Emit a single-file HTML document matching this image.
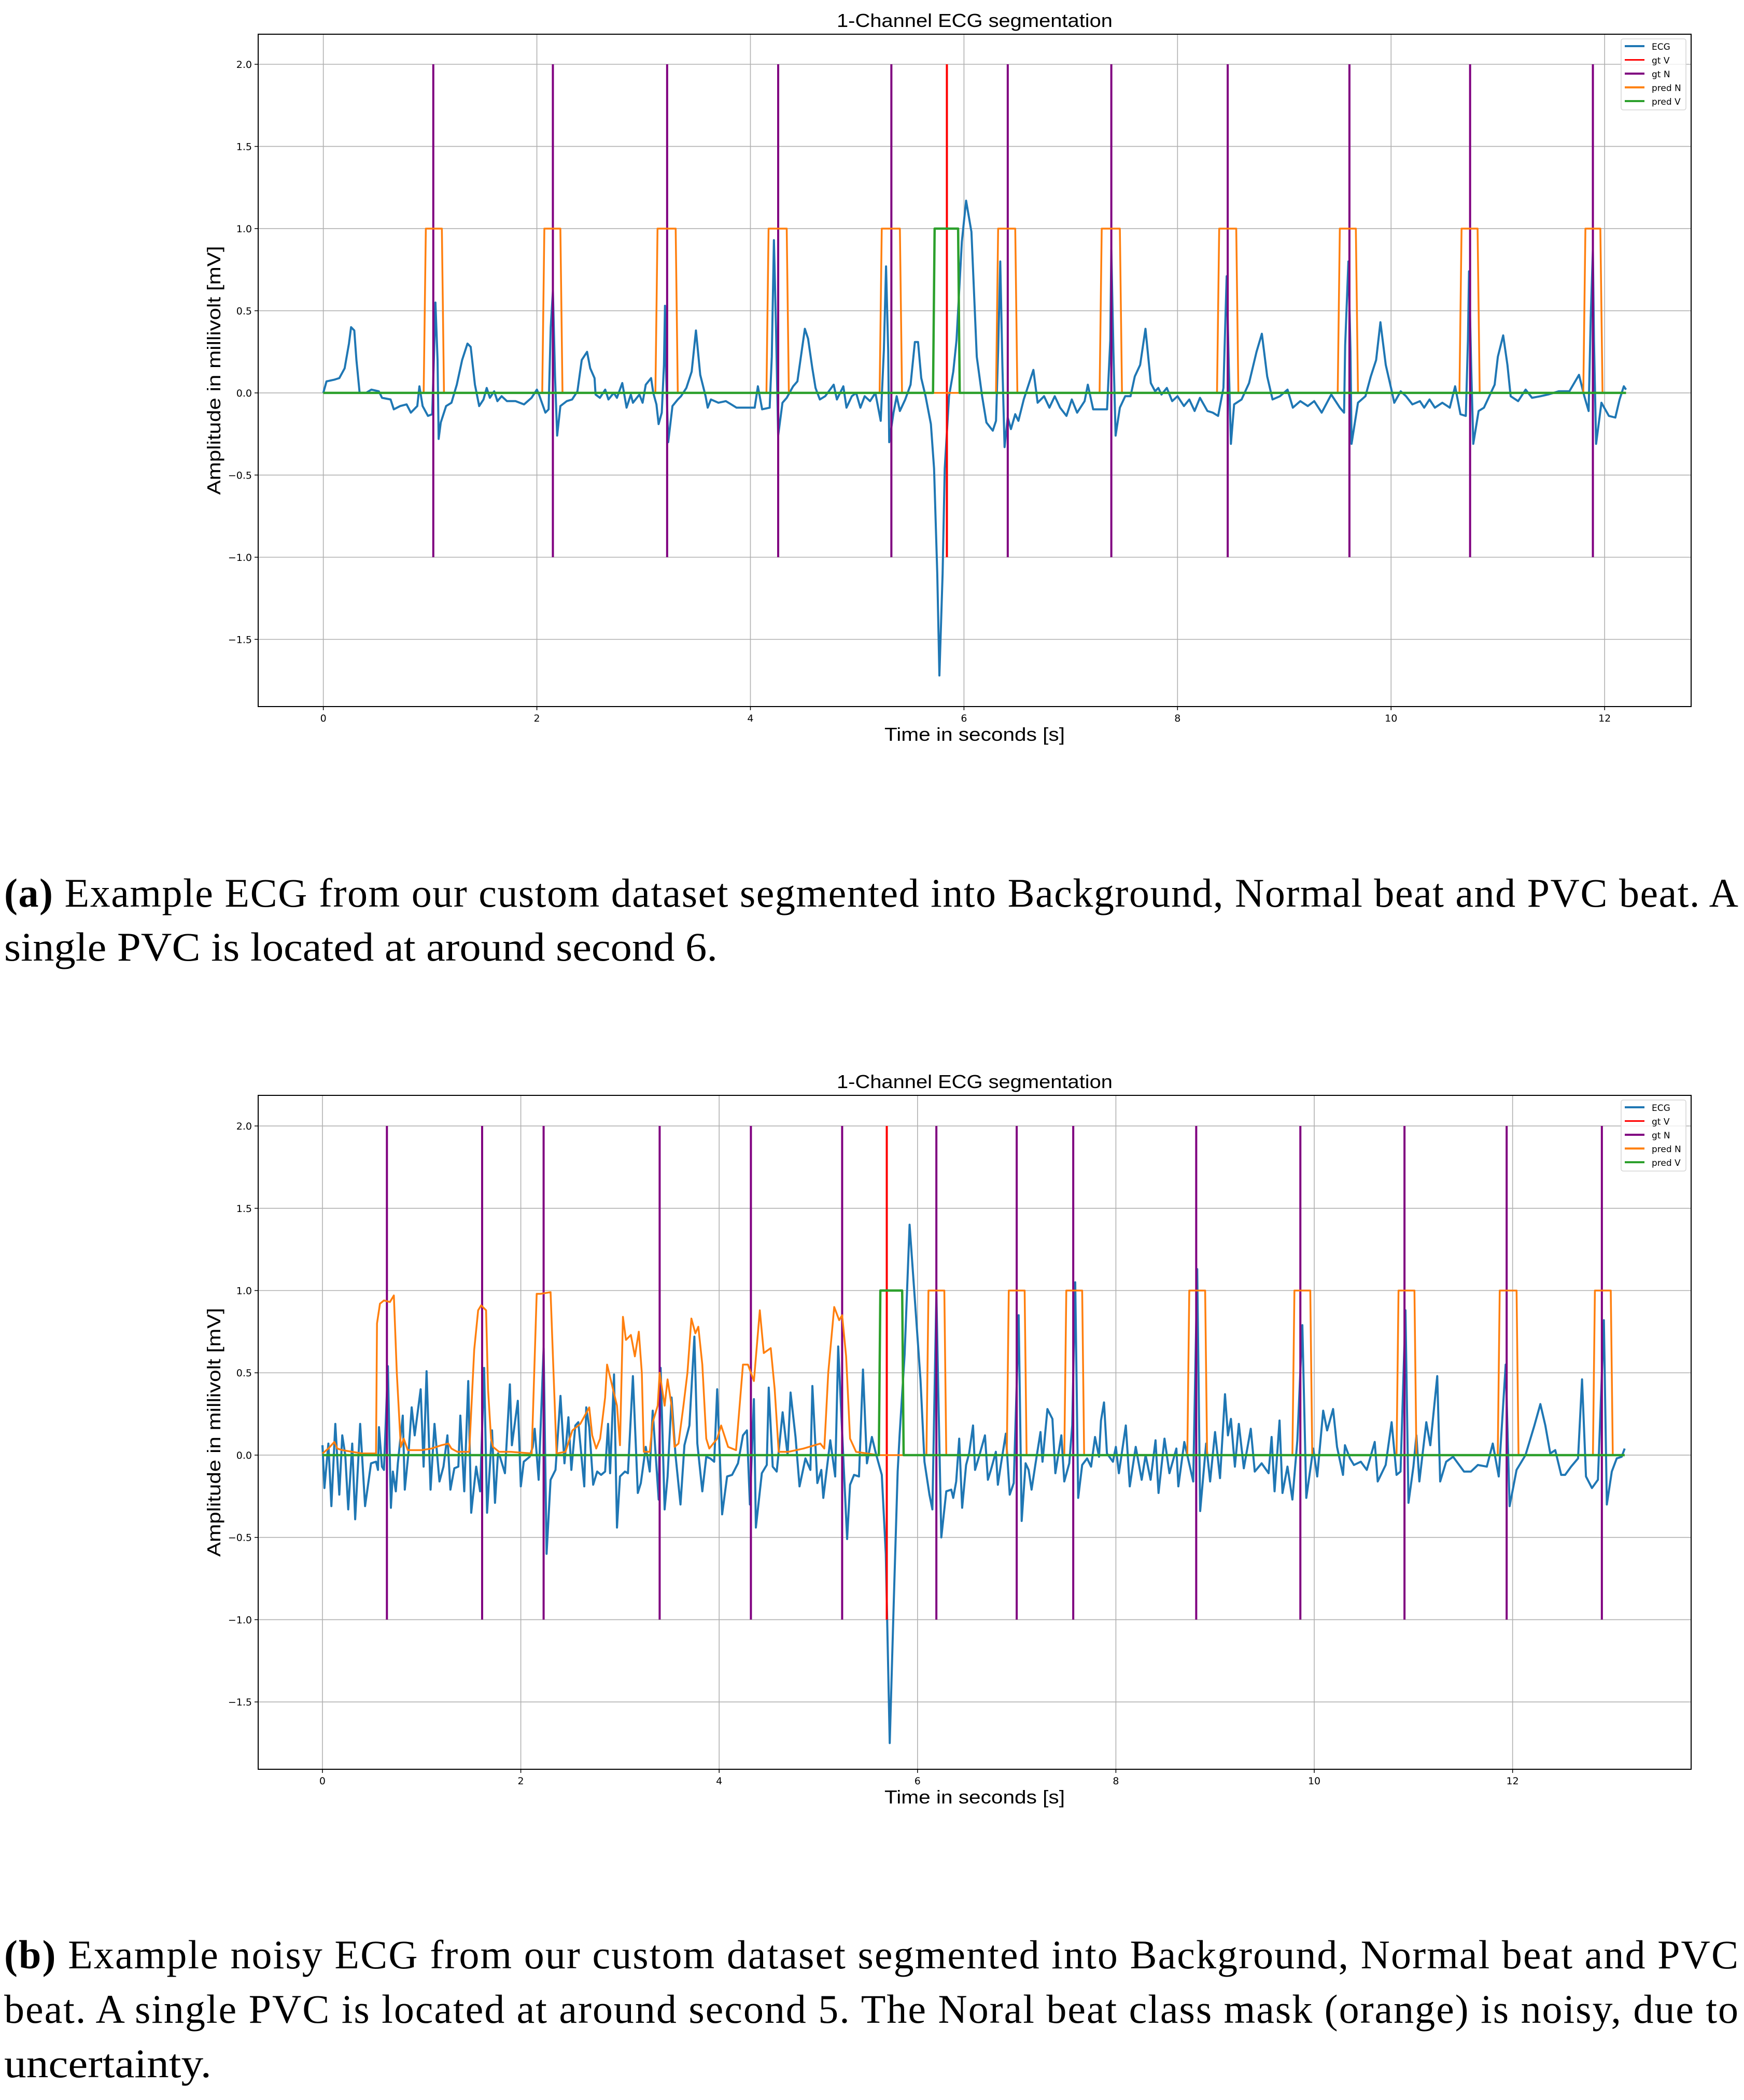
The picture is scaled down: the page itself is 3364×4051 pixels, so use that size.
<!DOCTYPE html>
<html>
<head>
<meta charset="utf-8">
<style>
  html,body{margin:0;padding:0;background:#fff;}
  svg{display:block;}
  .tick{font-family:"DejaVu Sans","Liberation Sans",sans-serif;font-size:19px;fill:#000;}
  .axlabel{font-family:"Liberation Sans",sans-serif;font-size:36px;fill:#000;}
  .title{font-family:"Liberation Sans",sans-serif;font-size:36px;fill:#000;}
  .leg{font-family:"DejaVu Sans","Liberation Sans",sans-serif;font-size:17px;fill:#000;}
  .cap{font-family:"Liberation Serif",serif;font-size:78px;fill:#000;}
</style>
</head>
<body>
<svg id="root" xmlns="http://www.w3.org/2000/svg" width="3364" height="4051" viewBox="0 0 3364 4051">
  <rect x="0" y="0" width="3364" height="4051" fill="#fff"/>
  <text class="cap" x="8" y="1749" textLength="3345" lengthAdjust="spacing"><tspan font-weight="bold">(a)</tspan> Example ECG from our custom dataset segmented into Background, Normal beat and PVC beat. A</text>
  <text class="cap" x="8" y="1853" textLength="1376" lengthAdjust="spacingAndGlyphs">single PVC is located at around second 6.</text>
  <text class="cap" x="8" y="3797" textLength="3345" lengthAdjust="spacing"><tspan font-weight="bold">(b)</tspan> Example noisy ECG from our custom dataset segmented into Background, Normal beat and PVC</text>
  <text class="cap" x="8" y="3902" textLength="3345" lengthAdjust="spacing">beat. A single PVC is located at around second 5. The Noral beat class mask (orange) is noisy, due to</text>
  <text class="cap" x="8" y="4007" textLength="400" lengthAdjust="spacingAndGlyphs">uncertainty.</text>
</svg>
<script>
// ---------- Chart A data ----------
const ecgA_t = [0,0.03,0.1,0.15,0.2,0.24,0.26,0.29,0.31,0.34,0.4,0.45,0.52,0.55,0.63,0.66,0.72,0.78,0.82,0.88,0.9,0.93,0.98,1.02,1.04,1.05,1.07,1.08,1.10,1.15,1.2,1.25,1.3,1.35,1.38,1.42,1.46,1.5,1.53,1.56,1.6,1.63,1.67,1.72,1.8,1.88,1.95,2.0,2.02,2.08,2.11,2.13,2.15,2.17,2.19,2.22,2.28,2.33,2.38,2.42,2.47,2.50,2.54,
2.55,2.59,2.64,2.67,2.72,2.75,2.8,2.84,2.88,2.9,2.96,2.99,3.02,3.07,3.09,3.12,3.14,3.17,3.19,3.2,3.21,3.23,3.27,3.32,3.35,3.4,3.45,3.49,3.53,3.58,3.6,3.63,3.7,3.77,3.82,3.87,3.94,4.04,4.07,4.11,4.18,4.2,4.22,4.24,4.26,4.3,4.34,4.4,4.44,4.51,4.54,4.58,4.61,4.65,4.7,4.78,4.81,4.87,4.9,4.95,4.99,5.03,5.07,5.12,5.17,5.22,5.25,5.27,5.29,5.3,5.34,5.37,5.4,5.45,5.5,5.54,5.57,5.6,5.64,5.69,5.72,5.75,5.77,5.8,5.82,5.86,5.9,5.93,5.98,6.02,6.07,6.12,6.17,6.21,6.27,6.3,6.32,6.34,6.36,6.38,6.41,6.44,6.48,6.51,6.56,6.6,6.65,6.69,6.75,6.8,6.85,6.9,6.96,7.01,7.06,7.13,7.16,7.21,7.26,
7.29,7.34,7.37,7.38,7.4,7.42,7.46,7.51,7.56,7.6,7.65,7.7,7.75,7.79,7.82,7.85,7.9,7.95,8.0,8.06,8.11,8.16,8.21,8.28,8.33,8.38,8.43,8.46,8.48,8.5,8.53,8.6,8.67,8.74,8.79,8.84,8.89,8.96,9.03,9.08,9.15,9.22,9.28,9.35,9.44,9.52,9.56,9.57,9.6,9.62,9.63,9.69,9.76,9.81,9.86,9.9,9.95,10.0,10.03,10.09,10.14,10.2,10.27,10.31,10.36,10.41,10.48,10.55,10.6,10.65,10.7,10.72,10.73,10.75,10.77,10.82,10.87,10.92,10.97,11.0,11.05,11.09,11.12,11.19,11.26,11.32,11.4,11.47,11.57,11.67,11.76,11.81,11.85,11.87,11.89,11.9,11.92,11.97,12.04,12.1,12.14,12.18,12.2];
const ecgA_v = [0,0.07,0.08,0.09,0.15,0.30,0.40,0.38,0.20,0.00,0.00,0.02,0.01,-0.03,-0.04,-0.10,-0.08,-0.07,-0.12,-0.08,0.04,-0.08,-0.14,-0.13,0.30,0.55,0.20,-0.28,-0.18,-0.08,-0.06,0.05,0.20,0.30,0.28,0.05,-0.08,-0.04,0.03,-0.03,0.01,-0.05,-0.02,-0.05,-0.05,-0.07,-0.03,0.02,-0.01,-0.12,-0.10,0.40,0.62,0.10,-0.26,-0.08,-0.05,-0.04,0.01,0.20,0.25,0.15,0.09,
-0.01,-0.03,0.02,-0.04,0,-0.03,0.06,-0.09,-0.01,-0.06,-0.01,-0.06,0.05,0.09,0,-0.07,-0.19,-0.12,0.17,0.53,0.13,-0.30,-0.08,-0.04,-0.02,0.03,0.13,0.38,0.11,-0.02,-0.09,-0.04,-0.06,-0.05,-0.07,-0.09,-0.09,-0.09,0.04,-0.10,-0.09,0.22,0.93,0.39,-0.26,-0.06,-0.03,0.04,0.07,0.39,0.33,0.15,0.03,-0.04,-0.02,0.05,-0.04,0.04,-0.09,-0.02,0,-0.09,-0.02,-0.05,0,-0.17,0.26,0.77,0.26,-0.30,-0.12,-0.02,-0.11,-0.04,0.05,0.31,0.31,0.09,-0.02,-0.19,-0.46,-1.10,-1.72,-1.10,-0.46,-0.02,0.13,0.32,0.92,1.17,0.98,0.22,-0.02,-0.18,-0.23,-0.17,0.26,0.80,0.17,-0.33,-0.15,-0.22,-0.13,-0.17,-0.04,0.04,0.14,-0.06,-0.02,-0.09,-0.02,-0.09,-0.14,-0.04,-0.12,-0.05,0.05,-0.10,-0.10,
-0.10,-0.10,0.32,0.87,0.25,-0.26,-0.09,-0.02,-0.02,0.10,0.17,0.39,0.06,0.01,0.03,-0.01,0.03,-0.05,-0.02,-0.08,-0.04,-0.11,-0.03,-0.11,-0.12,-0.14,0.03,0.71,0.17,-0.31,-0.07,-0.04,0.06,0.25,0.36,0.10,-0.04,-0.02,0.02,-0.09,-0.05,-0.08,-0.05,-0.12,-0.01,-0.09,-0.12,0.29,0.80,0.25,-0.31,-0.06,-0.02,0.10,0.20,0.43,0.17,0.03,-0.06,0.01,-0.02,-0.07,-0.05,-0.09,-0.04,-0.09,-0.06,-0.09,0.04,-0.13,-0.14,0.32,0.74,0.17,-0.31,-0.11,-0.09,-0.02,0.05,0.22,0.35,0.17,-0.02,-0.05,0.02,-0.03,-0.02,-0.01,0.01,0.01,0.11,-0.02,-0.11,0.46,0.87,0.32,-0.31,-0.06,-0.14,-0.15,-0.04,0.04,0.02];
const gtNA = [1.03,2.15,3.22,4.26,5.32,6.41,7.38,8.47,9.61,10.74,11.89];
const gtVA = [5.84];
const predNA_start = [0.94,2.05,3.11,4.15,5.21,6.30,7.27,8.37,9.50,10.64,11.80];
const predNA_end   = [1.13,2.24,3.32,4.36,5.42,6.50,7.48,8.57,9.69,10.83,11.98];
const predVA_start = [5.71];
const predVA_end   = [5.96];
const tEndA = 12.2;

// ---------- Chart B data ----------
const ecgB_t = [0.00,0.02,0.06,0.09,0.13,0.17,0.20,0.23,0.26,0.30,0.33,0.38,0.43,0.49,0.54,0.56,0.57,0.60,0.62,0.66,0.69,0.71,0.74,0.76,0.81,0.83,0.87,0.90,0.93,0.99,1.02,1.05,1.09,1.13,1.18,1.22,1.26,1.29,1.33,1.37,1.39,1.43,1.47,1.50,1.55,1.59,1.63,1.66,1.71,1.74,1.77,1.79,1.84,1.89,1.91,1.97,2.00,2.03,2.09,2.12,2.14,2.18,2.23,2.26,2.30,2.35,2.40,2.44,2.48,2.51,2.55,2.58,2.64,2.66,2.69,2.73,2.77,2.81,2.85,2.88,2.90,2.94,2.97,3.00,3.05,3.08,3.13,3.18,3.21,3.26,3.30,3.33,3.39,3.41,3.45,3.48,3.52,3.56,3.61,3.65,3.70,3.75,3.78,3.83,3.87,3.91,3.95,3.98,4.03,4.08,4.13,4.19,4.24,4.28,4.31,4.35,4.37,4.43,4.48,4.50,4.54,4.58,4.64,4.69,4.72,4.77,4.81,4.87,4.92,4.94,4.99,5.03,5.05,5.12,5.17,5.20,5.26,5.29,5.32,5.36,5.41,5.45,5.49,5.54,5.58,5.64,5.68,5.72,5.76,5.80,5.82,5.87,5.92,5.97,6.03,6.07,6.12,6.15,6.19,6.21,6.24,6.29,6.34,6.36,6.39,6.42,6.45,6.49,6.52,6.56,6.58,6.62,6.68,6.71,6.74,6.79,6.81,6.84,6.89,6.93,6.97,7.00,7.02,7.05,7.09,7.12,7.15,7.19,7.24,7.26,7.31,7.36,7.39,7.45,7.48,7.53,7.56,7.59,7.62,7.66,7.71,7.75,7.79,7.83,7.85,7.88,7.91,7.97,8.00,8.03,8.10,8.14,8.20,8.26,8.30,8.35,8.40,8.43,8.49,8.54,8.61,8.63,8.69,8.78,8.82,8.85,8.91,8.95,9.00,9.05,9.10,9.13,9.16,9.20,9.24,9.29,9.36,9.40,9.47,9.54,9.57,9.60,9.65,9.68,9.73,9.78,9.83,9.88,9.92,9.99,10.03,10.09,10.13,10.19,10.23,10.29,10.31,10.36,10.40,10.47,10.53,10.61,10.64,10.72,10.78,10.83,10.87,10.92,10.95,11.00,11.03,11.06,11.13,11.17,11.24,11.27,11.33,11.40,11.51,11.58,11.65,11.74,11.80,11.86,11.93,11.97,12.04,12.13,12.22,12.28,12.33,12.38,12.43,12.49,12.53,12.59,12.66,12.70,12.74,12.80,12.86,12.92,12.95,13.00,13.05,13.10,13.13];
const ecgB_v = [0.06,-0.20,0.07,-0.31,0.19,-0.24,0.12,0.00,-0.33,0.07,-0.39,0.19,-0.31,-0.05,-0.04,-0.09,0.17,-0.07,-0.09,0.54,-0.32,-0.10,-0.22,-0.05,0.24,-0.21,0.03,0.29,0.12,0.40,-0.07,0.51,-0.21,0.19,-0.16,-0.07,0.12,-0.21,-0.08,-0.07,0.24,-0.22,0.45,-0.35,-0.07,-0.22,0.53,-0.35,0.15,-0.29,0.01,-0.01,-0.11,0.43,0.06,0.33,-0.19,-0.04,-0.01,0.05,0.16,-0.15,0.65,-0.60,-0.15,-0.09,0.36,-0.05,0.23,-0.09,0.18,0.20,-0.19,0.29,0.17,-0.18,-0.10,-0.12,-0.10,0.19,-0.11,0.49,-0.44,-0.13,-0.10,-0.11,0.48,-0.23,-0.17,0.05,-0.10,0.27,-0.27,0.53,-0.33,-0.13,0.35,0.00,-0.30,0.06,0.18,0.72,0.07,-0.22,-0.01,-0.02,-0.04,0.40,-0.36,-0.13,-0.12,-0.05,0.12,0.15,-0.30,0.34,-0.44,-0.11,-0.06,0.41,-0.07,-0.10,0.26,0.00,0.38,0.11,-0.19,-0.02,-0.09,0.42,-0.17,-0.09,-0.26,0.09,-0.13,0.66,-0.12,-0.51,-0.18,-0.12,-0.13,0.52,-0.05,0.11,0.01,-0.12,-0.60,-1.75,-0.90,-0.10,0.13,0.61,1.40,0.97,0.46,-0.04,-0.24,-0.33,0.98,0.36,-0.50,-0.22,-0.21,-0.26,-0.16,0.10,-0.32,-0.06,0.01,0.18,-0.09,-0.01,0.12,-0.15,-0.09,0.02,-0.18,-0.06,0.13,-0.24,-0.17,0.43,0.85,-0.40,-0.05,-0.09,-0.21,-0.05,0.14,-0.04,0.28,0.22,-0.11,0.12,-0.16,-0.05,0.18,1.05,-0.26,-0.06,-0.02,-0.07,0.11,-0.01,0.21,0.32,0.01,-0.04,0.05,-0.11,0.18,-0.19,0.05,-0.15,0.00,-0.15,0.09,-0.23,0.10,-0.11,0.04,-0.19,0.08,-0.16,1.13,-0.34,0.07,-0.16,0.14,-0.14,0.37,0.12,0.22,-0.07,0.19,-0.08,0.16,-0.10,-0.05,-0.11,0.11,-0.22,0.21,-0.23,-0.07,-0.27,0.09,0.79,-0.26,0.04,-0.13,0.27,0.15,0.28,0.05,-0.12,0.06,-0.02,-0.06,-0.04,-0.09,0.08,-0.16,-0.06,0.20,-0.12,-0.10,0.88,-0.29,-0.07,0.12,-0.16,0.20,0.06,0.48,-0.16,-0.04,-0.01,-0.10,-0.10,-0.06,-0.07,0.07,-0.13,0.55,-0.31,-0.09,0.00,0.18,0.31,0.18,0.01,0.03,-0.12,-0.12,-0.07,-0.02,0.46,-0.13,-0.20,-0.15,0.82,-0.30,-0.10,-0.02,-0.01,0.04];
const gtNB = [0.65,1.61,2.23,3.40,4.32,5.24,6.19,7.00,7.57,8.81,9.86,10.91,11.94,12.90];
const gtVB = [5.69];
const predNB_noise_t = [0.00,0.06,0.12,0.15,0.20,0.30,0.40,0.54,0.55,0.58,0.62,0.68,0.72,0.75,0.79,0.82,0.86,0.90,1.00,1.10,1.20,1.27,1.30,1.36,1.48,1.53,1.57,1.60,1.65,1.67,1.70,1.72,1.78,1.90,2.11,2.16,2.20,2.30,2.33,2.36,2.45,2.52,2.60,2.69,2.72,2.76,2.80,2.85,2.87,2.93,2.97,3.00,3.03,3.06,3.11,3.15,3.19,3.22,3.24,3.30,3.33,3.38,3.40,3.45,3.48,3.52,3.55,3.59,3.64,3.68,3.72,3.76,3.79,3.83,3.87,3.90,3.98,4.02,4.09,4.17,4.24,4.29,4.35,4.41,4.45,4.52,4.56,4.60,4.70,4.85,5.02,5.06,5.10,5.16,5.21,5.24,5.28,5.32,5.38,5.60];
const predNB_noise_v = [0.01,0.04,0.08,0.04,0.03,0.02,0.01,0.01,0.80,0.92,0.94,0.93,0.97,0.50,0.05,0.10,0.03,0.03,0.03,0.04,0.06,0.07,0.04,0.02,0.02,0.64,0.88,0.91,0.88,0.40,0.10,0.05,0.02,0.02,0.01,0.98,0.98,0.99,0.50,0.01,0.02,0.15,0.19,0.29,0.12,0.04,0.10,0.35,0.55,0.40,0.30,0.06,0.84,0.70,0.73,0.60,0.75,0.50,0.02,0.02,0.20,0.30,0.50,0.30,0.46,0.30,0.05,0.07,0.30,0.50,0.83,0.74,0.78,0.55,0.10,0.04,0.10,0.18,0.05,0.03,0.55,0.55,0.45,0.88,0.62,0.65,0.40,0.02,0.02,0.04,0.07,0.04,0.50,0.90,0.82,0.85,0.60,0.10,0.02,0.00];
const predNB_start = [6.09,6.90,7.48,8.72,9.78,10.83,11.85,12.81];
const predNB_end   = [6.29,7.10,7.68,8.92,9.98,11.03,12.06,13.01];
const predVB_start = [5.61];
const predVB_end   = [5.86];
const tEndB = 13.13;

const yTicks = [-1.5,-1.0,-0.5,0.0,0.5,1.0,1.5,2.0];
const xTicks = [0,2,4,6,8,10,12];
const legendLabels = ['ECG','gt V','gt N','pred N','pred V'];
const legendColors = ['#1f77b4','#ff0000','#800080','#ff7f0e','#2ca02c'];

const NS = 'http://www.w3.org/2000/svg';
const root = document.getElementById('root');
function el(tag, attrs, parent){
  const e = document.createElementNS(NS, tag);
  for (const k in attrs) e.setAttribute(k, attrs[k]);
  (parent||root).appendChild(e);
  return e;
}
function fmtY(v){ const s = Math.abs(v).toFixed(1); return (v<0?'\u2212':'')+s; }

function boxSeries(starts, ends, tEnd, ramp){
  const ts=[0], vs=[0];
  for (let i=0;i<starts.length;i++){
    ts.push(starts[i], starts[i]+ramp, ends[i]-ramp, ends[i]);
    vs.push(0,1,1,0);
  }
  ts.push(tEnd); vs.push(0);
  return [ts,vs];
}

function drawChart(cfg){
  const g = el('g',{});
  
  
  const L=cfg.left,R=cfg.right,T=cfg.top,B=cfg.bottom;
  const xs = t => L + (t-cfg.xmin)/(cfg.xmax-cfg.xmin)*(R-L);
  const ys = v => T + (cfg.ymax-v)/(cfg.ymax-cfg.ymin)*(B-T);
  // grid
  const grid = el('g',{},g);
  
  
  xTicks.forEach(t=>{
    const ln = el('line',{x1:xs(t),x2:xs(t),y1:T,y2:B,stroke:'#b0b0b0','stroke-width':1.6},grid);
    
    
  });
  yTicks.forEach(v=>{
    const ln = el('line',{x1:L,x2:R,y1:ys(v),y2:ys(v),stroke:'#b0b0b0','stroke-width':1.6},grid);
    
    
  });
  const clip = el('clipPath',{id:cfg.name+'-clip'},g);
  el('rect',{x:L,y:T,width:R-L,height:B-T},clip);
  const plot = el('g',{'clip-path':'url(#'+cfg.name+'-clip)'},g);
  
  
  function line(ts,vs,color,w,name){
    let d='';
    for(let i=0;i<ts.length;i++) d+=(i?'L':'M')+xs(ts[i]).toFixed(1)+' '+ys(vs[i]).toFixed(1);
    const p = el('path',{d:d,fill:'none',stroke:color,'stroke-width':w,'stroke-linejoin':'round'},plot);
    
    
  }
  // ECG
  line(cfg.ecgT,cfg.ecgV,'#1f77b4',4,'ecg-line');
  // gt V
  cfg.gtV.forEach(t=>{
    const ln = el('line',{x1:xs(t),x2:xs(t),y1:ys(2),y2:ys(-1),stroke:'#ff0000','stroke-width':4},plot);
    
    
  });
  // gt N
  cfg.gtN.forEach(t=>{
    const ln = el('line',{x1:xs(t),x2:xs(t),y1:ys(2),y2:ys(-1),stroke:'#800080','stroke-width':4},plot);
    
    
  });
  // pred N
  line(cfg.predNT,cfg.predNV,'#ff7f0e',3.5,'pred-n-line');
  // pred V
  const pv = boxSeries(cfg.predVS,cfg.predVE,cfg.tEnd,0.015);
  line(pv[0],pv[1],'#2ca02c',4.5,'pred-v-line');
  // frame
  const fr = el('rect',{x:L,y:T,width:R-L,height:B-T,fill:'none',stroke:'#000','stroke-width':2},g);
  
  
  // ticks
  xTicks.forEach(t=>{
    el('line',{x1:xs(t),x2:xs(t),y1:B,y2:B+7,stroke:'#000','stroke-width':1.5},g);
    const tx = el('text',{x:xs(t),y:B+29,'text-anchor':'middle',class:'tick'},g);
    tx.textContent = String(t);
    
    
  });
  yTicks.forEach(v=>{
    el('line',{x1:L-7,x2:L,y1:ys(v),y2:ys(v),stroke:'#000','stroke-width':1.5},g);
    const tx = el('text',{x:L-12,y:ys(v)+7,'text-anchor':'end',class:'tick'},g);
    tx.textContent = fmtY(v);
    
    
  });
  const cx=(L+R)/2, cy=(T+B)/2;
  const ttl = el('text',{x:cx,y:T-14,'text-anchor':'middle',class:'title',textLength:532,lengthAdjust:'spacingAndGlyphs'},g);
  ttl.textContent='1-Channel ECG segmentation';
  
  
  const xl = el('text',{x:cx,y:B+66,'text-anchor':'middle',class:'axlabel',textLength:348,lengthAdjust:'spacingAndGlyphs'},g);
  xl.textContent='Time in seconds [s]';
  
  
  const yl = el('text',{x:0,y:0,'text-anchor':'middle',class:'axlabel',textLength:480,lengthAdjust:'spacingAndGlyphs',transform:'translate('+(L-73)+','+cy+') rotate(-90)'},g);
  yl.textContent='Amplitude in millivolt [mV]';
  
  
  // legend
  const lg = el('g',{},g);
  
  
  el('rect',{x:R-135,y:T+9,width:125,height:137,rx:4,fill:'#fff','fill-opacity':0.8,stroke:'#d6d6d6','stroke-width':1.6},lg);
  legendLabels.forEach((lab,i)=>{
    const yy = T+23+i*26.5;
    const e = el('g',{},lg);
    
    
    el('line',{x1:R-128,x2:R-90,y1:yy,y2:yy,stroke:legendColors[i],'stroke-width':i===1?3:4},e);
    const tx = el('text',{x:R-76,y:yy+7,class:'leg'},e);
    tx.textContent = lab;
  });
}

const pnA = boxSeries(predNA_start,predNA_end,tEndA,0.02);
drawChart({name:'chart-a',left:498,right:3262,top:66,bottom:1363,xmin:-0.61,xmax:12.81,ymin:-1.909,ymax:2.183,
  ecgT:ecgA_t,ecgV:ecgA_v,gtN:gtNA,gtV:gtVA,predNT:pnA[0],predNV:pnA[1],predVS:predVA_start,predVE:predVA_end,tEnd:tEndA});

const pnBbox = boxSeries(predNB_start,predNB_end,tEndB,0.02);
const pnBT = predNB_noise_t.concat(pnBbox[0].slice(1));
const pnBV = predNB_noise_v.concat(pnBbox[1].slice(1));
drawChart({name:'chart-b',left:498,right:3262,top:2113,bottom:3413,xmin:-0.648,xmax:13.80,ymin:-1.909,ymax:2.186,
  ecgT:ecgB_t,ecgV:ecgB_v,gtN:gtNB,gtV:gtVB,predNT:pnBT,predNV:pnBV,predVS:predVB_start,predVE:predVB_end,tEnd:tEndB});
</script>
</body>
</html>
